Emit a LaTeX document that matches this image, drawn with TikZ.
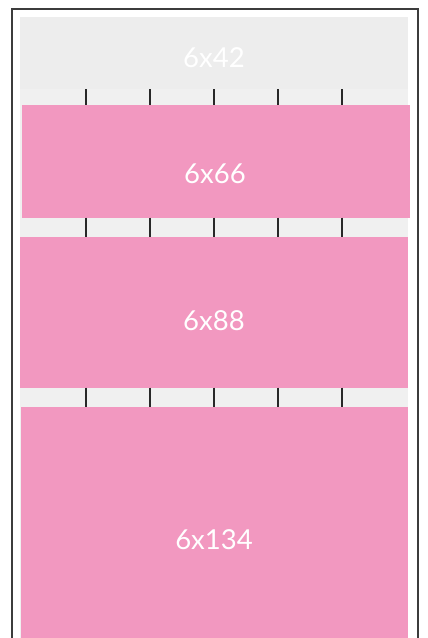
\documentclass[tikz,border=0pt]{standalone}
\usepackage{fontspec}
\setsansfont{Lato}
\definecolor{blockpink}{RGB}{242, 152, 192}
\definecolor{topgray}{RGB}{237, 237, 237}
\definecolor{stripgray}{RGB}{240, 240, 240}
\definecolor{framegray}{RGB}{60, 60, 60}
\definecolor{tickgray}{RGB}{40, 40, 40}

\begin{document}
\begin{tikzpicture}[x=1pt, y=-1pt, font=\sffamily, line width=1pt,
  sizelabel/.style={text=white, font=\fontsize{27.5}{32}\selectfont\sffamily}]

\useasboundingbox (0,0) rectangle (428,638);

% ============================================================
%  frame + background strips
% ============================================================
\draw[framegray, line width=1.9pt] (11.6,640) -- (11.6,8.8) -- (417.6,8.8) -- (417.6,640);
\fill[stripgray] (20,17) rectangle (408,638);
\fill[topgray] (20,17) rectangle (408,89);

% ---- pink blocks ----
\fill[blockpink] (22,105) rectangle (410,217.5);
\fill[blockpink] (20,237) rectangle (408,387.5);
\fill[blockpink] (21,407) rectangle (408,638);

% ---- tick marks between blocks ----
\foreach \tx in {86,150,214,278,342} {
  \draw[tickgray, line width=1.3pt] (\tx,89) -- (\tx,105);
  \draw[tickgray, line width=1.3pt] (\tx,217.5) -- (\tx,237);
  \draw[tickgray, line width=1.3pt] (\tx,387.5) -- (\tx,407);
}

% ---- size labels ----
\node[sizelabel] (s42) at (214,58) {6x42};
\node[sizelabel] (s66) at (215,174) {6x66};
\node[sizelabel] (s88) at (214,321) {6x88};
\node[sizelabel] (s134) at (214,540) {6x134};

\end{tikzpicture}
\end{document}
